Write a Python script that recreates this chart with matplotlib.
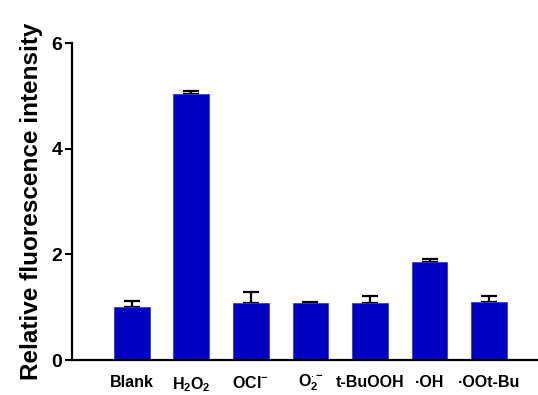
import matplotlib
matplotlib.use("Agg")
import matplotlib.pyplot as plt
import matplotlib.transforms as mtransforms
import numpy as np

plt.rcParams['font.family'] = ['Liberation Sans', 'DejaVu Sans']
plt.rcParams['mathtext.fontset'] = 'custom'
plt.rcParams['mathtext.rm'] = 'Liberation Sans:bold'
plt.rcParams['mathtext.bf'] = 'Liberation Sans:bold'
plt.rcParams['mathtext.it'] = 'Liberation Sans:bold'

categories = ['Blank', r'$\mathbf{H_2O_2}$', r'$\mathbf{OCl^{-}}$', r'$\mathbf{O_2^{\cdot-}}$',
              't-BuOOH', '·OH', '·OOt-Bu']
values = [1.00, 5.03, 1.07, 1.08, 1.07, 1.86, 1.09]
errors = [0.12, 0.07, 0.21, 0.02, 0.14, 0.06, 0.12]
yticks = [0, 2, 4, 6]

fig = plt.figure(figsize=(5.38, 3.95), dpi=100)
ax = fig.add_axes([0.134, 0.0886, 0.866, 0.8025])

x = np.arange(len(categories))
ax.bar(x, values, width=0.6, color='#0000C2', edgecolor='#3A3AD8', linewidth=0.6, zorder=2)
ax.errorbar(x, values, yerr=[np.zeros(len(errors)), errors], fmt='none', ecolor='black',
            elinewidth=1.6, capsize=5.5, capthick=1.6, zorder=1)

ax.set_xlim(-1.0, 6.82)
ax.set_ylim(0, 6)
ax.set_yticks(yticks)
ax.set_yticklabels([str(t) for t in yticks], fontsize=14, fontweight='bold')
ax.set_xticks(x)
ax.set_xticklabels(categories, fontsize=11.5, fontweight='bold')
ax.tick_params(axis='x', length=0, pad=11)
ax.tick_params(axis='y', length=5, width=1.5, direction='out', pad=2)

# lift the superoxide label slightly so its subscript stays inside the figure
lbl = ax.get_xticklabels()[3]
lbl.set_transform(lbl.get_transform() + mtransforms.ScaledTranslation(0, 3 / 100, fig.dpi_scale_trans))

for s in ['top', 'right']:
    ax.spines[s].set_visible(False)
ax.spines['left'].set_linewidth(1.6)
ax.spines['bottom'].set_linewidth(1.6)
ax.spines['left'].set_bounds(0, 6)

ax.set_ylabel('Relative fluorescence intensity', fontsize=17.5, fontweight='bold', labelpad=6)

fig.savefig('out.png', dpi=100)
